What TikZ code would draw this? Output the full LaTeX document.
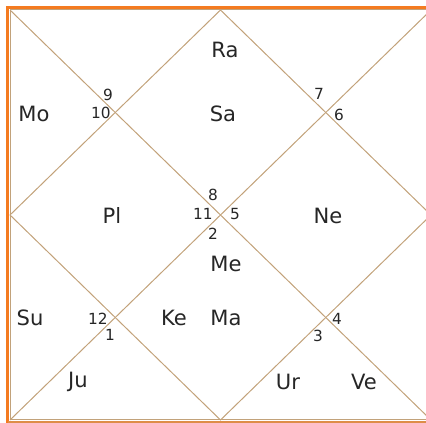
\documentclass[tikz,border=0pt]{standalone}
\usepackage{fontspec}
\setmainfont{DejaVu Sans}
\usepackage{xcolor}
\usepackage{tikz}
\definecolor{chartorange}{HTML}{F47B20}
\definecolor{chartline}{HTML}{C2A27A}

\begin{document}
\begin{tikzpicture}[x=0.75pt, y=-0.75pt,
  planet/.style={font=\fontsize{15.8}{15.8}\selectfont, text=black!85, inner sep=0pt},
  house/.style={font=\fontsize{11.5}{11.5}\selectfont, text=black!85, inner sep=0pt}]
  \useasboundingbox (0,0) rectangle (426,423);
  \clip (0,0) rectangle (426,423);
  % Chart corners and midpoints
  \coordinate (tl) at (10,10);
  \coordinate (tr) at (431,10);
  \coordinate (bl) at (10,420);
  \coordinate (br) at (431,420);
  \coordinate (tm) at (220.5,10);
  \coordinate (lm) at (10,215);
  \coordinate (rm) at (431,215);
  \coordinate (bm) at (220.5,420);
  % Outer frame
  \draw[chartorange, line width=2.25pt] (440,7.5) -- (7.5,7.5) -- (7.5,440);
  \draw[chartorange!55!chartline, line width=1.5pt] (7.5,421.8) -- (440,421.8);
  \draw[chartline, line width=0.75pt] (tl) rectangle (br);
  % Diagonals and diamond
  \draw[chartline, line width=0.75pt] (tl) -- (br);
  \draw[chartline, line width=0.75pt] (tr) -- (bl);
  \draw[chartline, line width=0.75pt] (tm) -- (rm) -- (bm) -- (lm) -- cycle;
  % Planets
  \node[planet] (ra) at (225,50) {Ra};
  \node[planet] (sa) at (223,114) {Sa};
  \node[planet] (mo) at (34,114) {Mo};
  \node[planet] (pl) at (112,216) {Pl};
  \node[planet] (ne) at (328,216) {Ne};
  \node[planet] (me) at (226,264) {Me};
  \node[planet] (su) at (30,318) {Su};
  \node[planet] (ke) at (174,318) {Ke};
  \node[planet] (ma) at (226,318) {Ma};
  \node[planet] (ju) at (78,382) {Ju};
  \node[planet] (ur) at (288,382) {Ur};
  \node[planet] (ve) at (364,382) {Ve};
  % House numbers
  \node[house] (h9) at (108,95) {9};
  \node[house] (h10) at (101,113) {10};
  \node[house] (h7) at (319,94) {7};
  \node[house] (h6) at (339,115) {6};
  \node[house] (h8) at (213,195) {8};
  \node[house] (h11) at (203,214) {11};
  \node[house] (h5) at (235,214) {5};
  \node[house] (h2) at (213,234) {2};
  \node[house] (h12) at (98,319) {12};
  \node[house] (h1) at (110,335) {1};
  \node[house] (h4) at (337,319) {4};
  \node[house] (h3) at (318,336) {3};
\end{tikzpicture}
\end{document}
